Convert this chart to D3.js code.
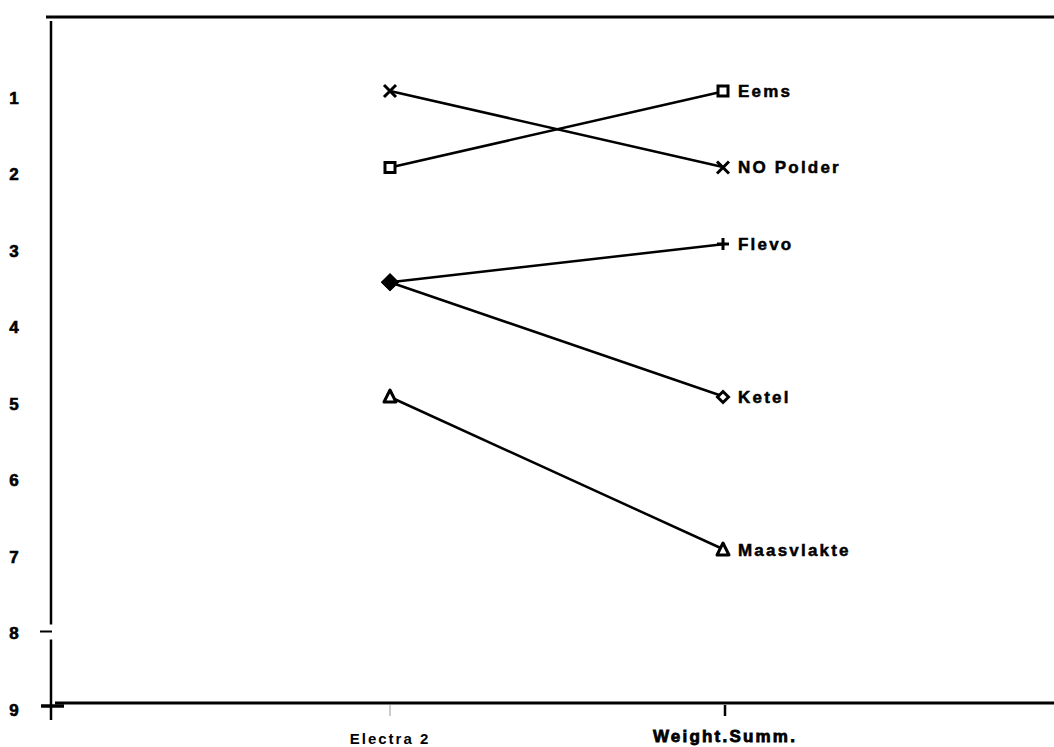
<!DOCTYPE html>
<html><head><meta charset="utf-8">
<script src="https://cdn.jsdelivr.net/npm/d3@7"></script>
<style>body{margin:0;background:#fff}svg{display:block}</style>
</head><body><svg id="c" width="1054" height="747"></svg>
<script>
const categories = ["Electra 2", "Weight.Summ."];
const sites = ["Eems", "NO Polder", "Flevo", "Ketel", "Maasvlakte"];
const markers = ["square", "cross", "plus", "diamond", "triangle"];
const electra = [2, 1, 3.5, 3.5, 5];
const weight = [1, 2, 3, 5, 7];
const yTicks = [1, 2, 3, 4, 5, 6, 7, 8, 9];

const svg = d3.select("#c");
const x = d3.scalePoint().domain(categories).range([390, 725]);
const y = d3.scaleLinear().domain([1, 9]).range([91, 703]);
const FONT = "'Liberation Sans', Arial, sans-serif";

svg.append("line").attr("x1", 46).attr("x2", 1054).attr("y1", 17).attr("y2", 17)
  .attr("stroke", "#000").attr("stroke-width", 3);
svg.append("line").attr("x1", 51).attr("x2", 51).attr("y1", 21).attr("y2", y(8) - 2)
  .attr("stroke", "#000").attr("stroke-width", 2.5);
svg.append("line").attr("x1", 51).attr("x2", 51).attr("y1", y(8) + 13).attr("y2", 720)
  .attr("stroke", "#000").attr("stroke-width", 2.5);
svg.append("line").attr("x1", 55).attr("x2", 1054).attr("y1", y(9)).attr("y2", y(9))
  .attr("stroke", "#000").attr("stroke-width", 3);

svg.append("g").selectAll("text").data(yTicks).join("text")
  .attr("x", 14).attr("y", d => y(d) + 7 - (d - 1) * 0.03)
  .attr("dy", "0.35em").attr("text-anchor", "middle")
  .attr("font-family", FONT).attr("font-weight", "bold").attr("font-size", 17)
  .attr("stroke", "#000").attr("stroke-width", 0.6)
  .text(d => d);
svg.append("line").attr("x1", 40).attr("x2", 52).attr("y1", y(8) + 5).attr("y2", y(8) + 5)
  .attr("stroke", "#000").attr("stroke-width", 2);
svg.append("line").attr("x1", 41).attr("x2", 64).attr("y1", y(9) + 3).attr("y2", y(9) + 3)
  .attr("stroke", "#000").attr("stroke-width", 3.5);

svg.append("line").attr("x1", x(categories[0])).attr("x2", x(categories[0]))
  .attr("y1", y(9) + 2).attr("y2", y(9) + 13).attr("stroke", "#999").attr("stroke-width", 1);
svg.append("line").attr("x1", x(categories[1])).attr("x2", x(categories[1]))
  .attr("y1", y(9) + 2).attr("y2", y(9) + 13).attr("stroke", "#000").attr("stroke-width", 2.5);
svg.append("text").attr("x", x(categories[0])).attr("y", 744)
  .attr("text-anchor", "middle").attr("font-family", FONT).attr("font-weight", "bold")
  .attr("font-size", 15).attr("letter-spacing", 2).text(categories[0]);
svg.append("text").attr("x", x(categories[1])).attr("y", 742)
  .attr("text-anchor", "middle").attr("font-family", FONT).attr("font-weight", "900")
  .attr("font-size", 17).attr("letter-spacing", 2.2).attr("stroke", "#000").attr("stroke-width", 0.8)
  .text(categories[1]);

const rows = sites.map((s, i) => ({ site: s, m: markers[i], a: electra[i], b: weight[i] }));
svg.append("g").selectAll("line").data(rows).join("line")
  .attr("x1", x(categories[0])).attr("y1", d => y(d.a))
  .attr("x2", x(categories[1])).attr("y2", d => y(d.b))
  .attr("stroke", "#000").attr("stroke-width", 2.5);

function drawMarker(g, type, cx, cy, filledDiamond) {
  const s = 6;
  if (type === "square") {
    g.append("rect").attr("x", cx - s + 1).attr("y", cy - s + 1).attr("width", 2 * s - 2).attr("height", 2 * s - 2)
      .attr("fill", "#fff").attr("stroke", "#000").attr("stroke-width", 3);
  } else if (type === "cross") {
    g.append("path").attr("d", `M${cx - s},${cy - s}L${cx + s},${cy + s}M${cx - s},${cy + s}L${cx + s},${cy - s}`)
      .attr("stroke", "#000").attr("stroke-width", 3).attr("fill", "none");
  } else if (type === "plus") {
    g.append("path").attr("d", `M${cx - s},${cy}L${cx + s},${cy}M${cx},${cy - s}L${cx},${cy + s}`)
      .attr("stroke", "#000").attr("stroke-width", 3).attr("fill", "none");
  } else if (type === "diamond") {
    const r = filledDiamond ? 7 : 5.5;
    g.append("path").attr("d", `M${cx},${cy - r}L${cx + r},${cy}L${cx},${cy + r}L${cx - r},${cy}Z`)
      .attr("stroke", "#000").attr("stroke-width", 3).attr("fill", filledDiamond ? "#000" : "#fff");
  } else if (type === "triangle") {
    g.append("path").attr("d", `M${cx},${cy - s - 1}L${cx + s},${cy + s - 1}L${cx - s},${cy + s - 1}Z`)
      .attr("stroke", "#000").attr("stroke-width", 3).attr("fill", "#fff").attr("stroke-linejoin", "round");
  }
}
const mg = svg.append("g");
rows.forEach(d => {
  drawMarker(mg, d.m === "plus" ? "diamond" : d.m, x(categories[0]), y(d.a), d.m === "plus" || d.m === "diamond");
  drawMarker(mg, d.m, x(categories[1]) - 2, y(d.b), false);
});

svg.append("g").selectAll("text").data(rows).join("text")
  .attr("x", x(categories[1]) + 13).attr("y", d => y(d.b)).attr("dy", "0.35em")
  .attr("font-family", FONT).attr("font-weight", "bold").attr("font-size", 17)
  .attr("letter-spacing", 2.2).attr("stroke", "#000").attr("stroke-width", 0.5)
  .text(d => d.site);
</script></body></html>
